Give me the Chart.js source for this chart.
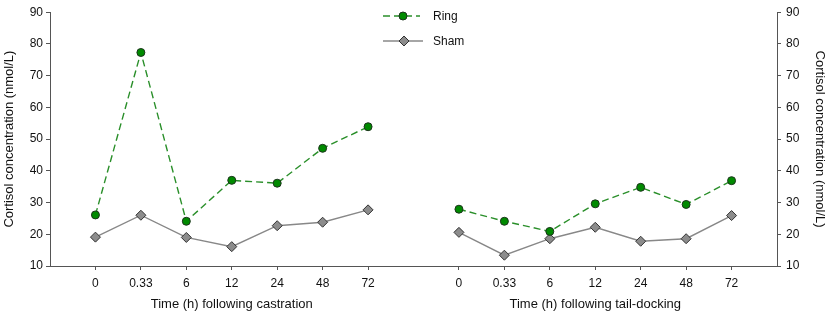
<!DOCTYPE html>
<html>
<head>
<meta charset="utf-8">
<script src="https://cdn.jsdelivr.net/npm/chart.js@4/dist/chart.umd.min.js"></script>
<style>
  html, body { margin: 0; padding: 0; background: #fff; }
  #wrap { width: 829px; height: 318px; }
</style>
</head>
<body>
<div id="wrap"><canvas id="c" width="829" height="318"></canvas></div>
<script>
// time points (same for both procedures)
const timeLabels = ['0', '0.33', '6', '12', '24', '48', '72'];
const panelTitles = ['Time (h) following castration', 'Time (h) following tail-docking'];

// cortisol, nmol/L
const ringCastration = [26.1, 77.3, 24.1, 37.0, 36.1, 47.1, 53.9];
const shamCastration = [19.1, 26.0, 19.0, 16.1, 22.7, 23.8, 27.7];
const ringTail = [27.9, 24.1, 20.9, 29.6, 34.8, 29.4, 36.9];
const shamTail = [20.6, 13.4, 18.6, 22.2, 17.8, 18.6, 25.9];

const OFFSET = 8; // second panel starts 8 slots to the right
const FONT = "'Liberation Sans', Arial, sans-serif";

function joinPanels(a, b) {
  let pts = a.map((v, i) => ({ x: i, y: v }));
  pts.push({ x: OFFSET - 1, y: null });
  return pts.concat(b.map((v, i) => ({ x: i + OFFSET, y: v })));
}

const ringColor = '#2a8f2a';
const shamColor = '#888888';

// legend and the two panel titles are drawn by hand
const extras = {
  id: 'extras',
  afterDraw(chart) {
    const ctx = chart.ctx;
    const xs = chart.scales.x;
    ctx.save();
    ctx.fillStyle = '#111';
    ctx.font = '13px ' + FONT;
    ctx.textAlign = 'center';
    ctx.textBaseline = 'middle';
    ctx.fillText(panelTitles[0], xs.getPixelForValue(3), 304);
    ctx.fillText(panelTitles[1], xs.getPixelForValue(3 + OFFSET), 304);

    // legend
    ctx.textAlign = 'left';
    ctx.font = '12px ' + FONT;
    ctx.lineWidth = 1.4;
    ctx.strokeStyle = ringColor;
    ctx.setLineDash([7, 4]);
    ctx.beginPath(); ctx.moveTo(383, 16); ctx.lineTo(420, 16); ctx.stroke();
    ctx.setLineDash([]);
    ctx.fillStyle = '#008a00';
    ctx.strokeStyle = '#1c331c';
    ctx.lineWidth = 1;
    ctx.beginPath(); ctx.arc(403, 16, 4, 0, Math.PI * 2); ctx.fill(); ctx.stroke();
    ctx.fillStyle = '#111';
    ctx.fillText('Ring', 433, 17);

    ctx.strokeStyle = shamColor;
    ctx.lineWidth = 1.4;
    ctx.beginPath(); ctx.moveTo(383, 41); ctx.lineTo(423, 41); ctx.stroke();
    ctx.fillStyle = '#8c8c8c';
    ctx.strokeStyle = '#333';
    ctx.lineWidth = 1;
    ctx.beginPath();
    ctx.moveTo(404, 36); ctx.lineTo(409, 41); ctx.lineTo(404, 46); ctx.lineTo(399, 41);
    ctx.closePath(); ctx.fill(); ctx.stroke();
    ctx.fillStyle = '#111';
    ctx.fillText('Sham', 433, 42);
    ctx.restore();
  }
};

const yAxisBase = {
  type: 'linear',
  min: 10,
  max: 90,
  ticks: { stepSize: 10, color: '#111', font: { family: FONT, size: 12 }, padding: 3 },
  grid: { drawOnChartArea: false, tickLength: 4, color: '#555' },
  border: { color: '#555', width: 1 },
  title: { display: true, text: 'Cortisol concentration (nmol/L)', color: '#111',
           font: { family: FONT, size: 13 }, padding: { top: 2, bottom: 2 } }
};

new Chart(document.getElementById('c'), {
  type: 'line',
  data: {
    datasets: [
      {
        label: 'Ring',
        data: joinPanels(ringCastration, ringTail),
        borderColor: ringColor,
        borderWidth: 1.4,
        borderDash: [7, 4],
        pointStyle: 'circle',
        pointRadius: 4,
        pointBackgroundColor: '#008a00',
        pointBorderColor: '#1c331c',
        pointBorderWidth: 1,
        spanGaps: false
      },
      {
        label: 'Sham',
        data: joinPanels(shamCastration, shamTail),
        borderColor: shamColor,
        borderWidth: 1.4,
        pointStyle: 'rectRot',
        pointRadius: 5,
        pointBackgroundColor: '#8c8c8c',
        pointBorderColor: '#333',
        pointBorderWidth: 1,
        spanGaps: false
      }
    ]
  },
  options: {
    responsive: false,
    animation: false,
    layout: { padding: { top: 12, left: 0, right: 0, bottom: 0 } },
    plugins: { legend: { display: false }, tooltip: { enabled: false } },
    scales: {
      x: {
        type: 'linear',
        min: -1,
        max: 2 * OFFSET - 1,
        afterBuildTicks(scale) {
          let t = [];
          for (let i = 0; i < timeLabels.length; i++) {
            t.push({ value: i });
          }
          for (let i = 0; i < timeLabels.length; i++) {
            t.push({ value: i + OFFSET });
          }
          scale.ticks = t;
        },
        afterFit(scale) { scale.height = 52; },
        ticks: {
          color: '#111',
          font: { family: FONT, size: 12 },
          padding: 6,
          maxRotation: 0,
          autoSkip: false,
          callback(v) { return timeLabels[v >= OFFSET ? v - OFFSET : v]; }
        },
        grid: { drawOnChartArea: false, tickLength: 4, color: '#555' },
        border: { color: '#555', width: 1 }
      },
      y: Object.assign({}, yAxisBase, {
        position: 'left',
        afterFit(scale) { scale.width = 50; }
      }),
      y2: Object.assign({}, yAxisBase, {
        position: 'right',
        ticks: Object.assign({}, yAxisBase.ticks, { padding: 5 }),
        afterFit(scale) { scale.width = 52; }
      })
    }
  },
  plugins: [extras]
});
</script>
</body>
</html>
